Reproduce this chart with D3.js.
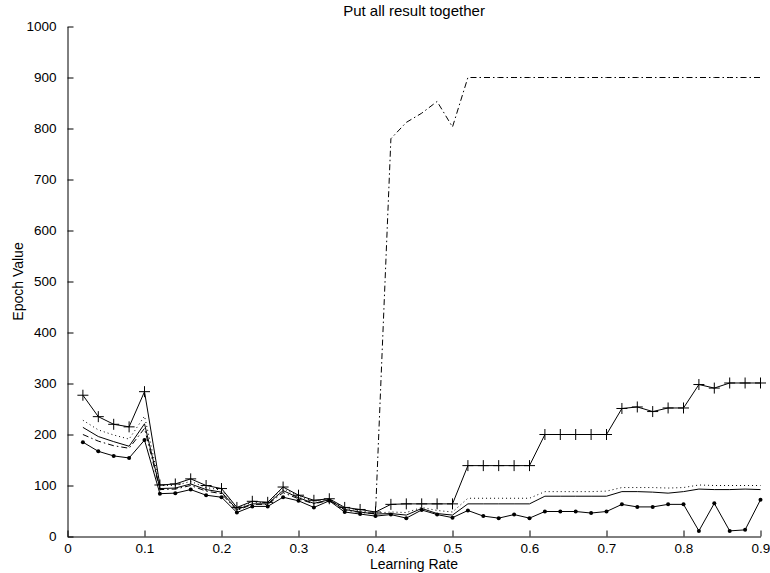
<!DOCTYPE html>
<html>
<head>
<meta charset="utf-8">
<script src="https://cdn.jsdelivr.net/npm/d3@7"></script>
<style>
  html, body { margin: 0; padding: 0; background: #fff; }
  svg { display: block; }
  text { font-family: "Liberation Sans", Arial, Helvetica, sans-serif; fill: #000; }
</style>
</head>
<body>
<svg id="chart" width="770" height="573"></svg>
<script>
// Learning rates 0.02 .. 0.90
const learningRate = [0.02,0.04,0.06,0.08,0.10,0.12,0.14,0.16,0.18,0.20,
  0.22,0.24,0.26,0.28,0.30,0.32,0.34,0.36,0.38,0.40,
  0.42,0.44,0.46,0.48,0.50,0.52,0.54,0.56,0.58,0.60,
  0.62,0.64,0.66,0.68,0.70,0.72,0.74,0.76,0.78,0.80,
  0.82,0.84,0.86,0.88,0.90];

// Epoch values per run
const runPlus = [277,235,220,215,284,101,103,113,100,94,
  57,69,67,97,81,71,74,57,53,48,
  63,64,64,64,64,139,139,139,139,139,
  200,200,200,200,200,251,254,245,252,252,
  298,291,301,301,301];

const runDotted = [228,209,199,191,236,100,100,108,96,91,
  56,67,66,94,79,69,73,55,50,46,
  48,47,57,51,48,75,75,75,75,75,
  88,88,88,88,89,96,96,96,95,96,
  101,100,100,100,100];

const runSolid = [214,196,186,177,221,94,95,103,92,87,
  53,64,64,90,76,65,72,53,48,44,
  45,42,55,45,42,64,64,64,64,64,
  79,79,79,79,79,88,88,87,85,88,
  93,92,92,93,92];

const runDashDot = [200,187,178,173,212,92,93,100,89,84,
  51,63,63,86,74,64,71,52,47,45,
  780,812,830,853,803,900,900,900,900,900,
  900,900,900,900,900,900,900,900,900,900,
  900,900,900,900,900];

const runDot = [185,167,158,154,189,84,85,92,81,77,
  47,59,59,77,70,57,70,48,44,40,
  43,36,52,43,37,51,40,36,43,36,
  49,49,49,46,49,63,58,58,63,63,
  11,65,11,13,72];

const xTicks = [0,0.1,0.2,0.3,0.4,0.5,0.6,0.7,0.8,0.9];
const yTicks = [0,100,200,300,400,500,600,700,800,900,1000];

const titleText = "Put all result together";
const xLabelText = "Learning Rate";
const yLabelText = "Epoch Value";

const svg = d3.select("#chart");
const plotLeft = 67.5, plotRight = 760.5, plotTop = 26.5, plotBottom = 536.5;

const x = d3.scaleLinear().domain([0, 0.9]).range([plotLeft, plotRight]);
const y = d3.scaleLinear().domain([0, 1000]).range([plotBottom, plotTop]);

// Axes with inward ticks
const xAxis = d3.axisBottom(x).tickValues(xTicks).tickSizeInner(-6).tickSizeOuter(0)
  .tickPadding(7).tickFormat(d => d === 0 ? "0" : d3.format(".1f")(d));
const yAxis = d3.axisLeft(y).tickValues(yTicks).tickSizeInner(-6).tickSizeOuter(0)
  .tickPadding(11).tickFormat(d3.format("d"));

const gx = svg.append("g").attr("transform", `translate(0,${plotBottom})`).call(xAxis);
const gy = svg.append("g").attr("transform", `translate(${plotLeft},0)`).call(yAxis);
[gx, gy].forEach(g => {
  g.select(".domain").attr("stroke", "#000").attr("stroke-width", 1);
  g.selectAll(".tick line").attr("stroke", "#000").attr("stroke-width", 1);
  g.selectAll(".tick text").attr("font-size", 13.5).attr("font-family", "Liberation Sans, Arial, sans-serif").attr("fill", "#000");
});

// Titles
svg.append("text").attr("x", (plotLeft + plotRight) / 2).attr("y", 16)
  .attr("text-anchor", "middle").attr("font-size", 15).text(titleText);
svg.append("text").attr("x", (plotLeft + plotRight) / 2).attr("y", 568.5)
  .attr("text-anchor", "middle").attr("font-size", 14).text(xLabelText);
svg.append("text").attr("transform", `translate(23,${(plotTop + plotBottom) / 2}) rotate(-90)`)
  .attr("text-anchor", "middle").attr("font-size", 14).text(yLabelText);

const line = d3.line().x((d, i) => x(learningRate[i])).y(d => y(d));

const plot = svg.append("g");
function drawLine(values, dash) {
  plot.append("path").datum(values)
    .attr("fill", "none").attr("stroke", "#000").attr("stroke-width", 1)
    .attr("stroke-dasharray", dash || null)
    .attr("d", line);
}

drawLine(runDotted, "1,3");
drawLine(runSolid, null);
drawLine(runDashDot, "6,3,1.5,3");
drawLine(runDot, null);
drawLine(runPlus, null);

// Plus markers
const s = 5.5;
plot.selectAll("path.plus").data(runPlus).enter().append("path")
  .attr("class", "plus")
  .attr("d", (d, i) => {
    const px = x(learningRate[i]), py = y(d);
    return `M${px - s},${py}H${px + s}M${px},${py - s}V${py + s}`;
  })
  .attr("stroke", "#000").attr("stroke-width", 1).attr("fill", "none");

// Dot markers
plot.selectAll("circle.dot").data(runDot).enter().append("circle")
  .attr("class", "dot")
  .attr("cx", (d, i) => x(learningRate[i])).attr("cy", d => y(d))
  .attr("r", 2).attr("fill", "#000");
</script>
</body>
</html>
